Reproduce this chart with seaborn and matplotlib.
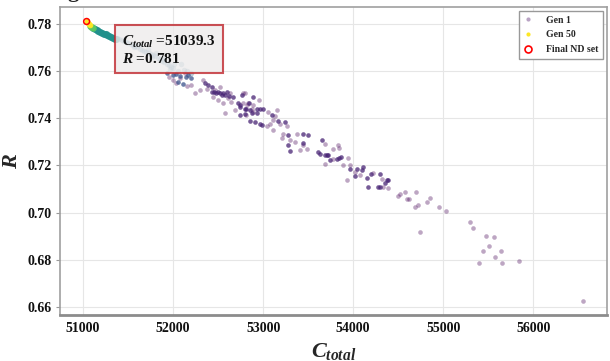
import matplotlib
matplotlib.use("Agg")
import matplotlib.pyplot as plt
from matplotlib.lines import Line2D
import seaborn as sns
import pandas as pd

# -----------------------------
# Data
# -----------------------------
# Generation 1 (light purple)
gen1_c = [54519, 54574, 54697, 54593, 54619, 54686, 54722, 54822, 54852, 54952,
          55027, 54741, 55297, 55333, 55471, 55567, 55511, 55444, 55638, 55574,
          55397, 55652, 55838, 56549,
          53778, 53833, 53844, 53778, 53686, 53882, 53944, 53963, 54019, 54074,
          54222, 54316, 53927, 54333, 54389, 54500,
          52797, 52956, 52778, 52822, 52871, 52889, 53056, 53149, 53130, 53111,
          53185, 53260, 53038, 53074, 53111, 53222, 53204, 53371, 53296, 53352,
          53444, 53408, 53482, 53686,
          52130, 52204, 52149, 52241, 52333, 52371, 52297, 52463, 52630, 52519,
          52444, 52500, 52556, 52611, 52648, 52778, 52833, 52889, 52685, 52574,
          52815, 51950, 52000, 52030, 52080]
gen1_r = [0.7080, 0.7086, 0.7089, 0.7058, 0.7058, 0.7023, 0.7034, 0.7044, 0.7063, 0.7023,
          0.7006, 0.6919, 0.6960, 0.6936, 0.6901, 0.6897, 0.6857, 0.6837, 0.6838, 0.6810,
          0.6784, 0.6786, 0.6794, 0.6623,
          0.7271, 0.7285, 0.7274, 0.7226, 0.7207, 0.7203, 0.7231, 0.7200, 0.7174, 0.7160,
          0.7169, 0.7143, 0.7136, 0.7108, 0.7103, 0.7072,
          0.7505, 0.7477, 0.7463, 0.7455, 0.7441, 0.7427, 0.7427, 0.7434, 0.7409, 0.7394,
          0.7377, 0.7367, 0.7366, 0.7377, 0.7352, 0.7332, 0.7314, 0.7335, 0.7306, 0.7299,
          0.7285, 0.7264, 0.7271, 0.7289,
          0.7590, 0.7540, 0.7536, 0.7505, 0.7562, 0.7522, 0.7519, 0.7519, 0.7505, 0.7533,
          0.7491, 0.7477, 0.7463, 0.7484, 0.7469, 0.7505, 0.7463, 0.7455, 0.7434, 0.7420,
          0.7413, 0.7575, 0.7560, 0.7550, 0.7570]

# Early generations (dark purple)
early_c = [53649, 53630, 53686, 53711, 53741, 53815, 53844, 53860, 53963, 54038,
           54093, 54111, 54019, 54149, 54193, 54297, 54371, 54389, 54352, 54167,
           54278, 54297,
           52760, 52882, 52741, 52844, 52808, 52927, 52797, 52963, 52993, 53093,
           53167, 53241, 52852, 52908, 52963, 52982, 53278, 53444, 53500, 53444,
           53278, 53296, 53611, 53722,
           52352, 52389, 52427, 52427, 52500, 52519, 52556, 52593, 52667, 52722,
           52741, 52797, 52852, 52741, 52871, 52927, 52450, 52480, 52540, 52620,
           52580]
early_r = [0.7306, 0.7250, 0.7243, 0.7243, 0.7221, 0.7229, 0.7231, 0.7235, 0.7186, 0.7186,
           0.7179, 0.7193, 0.7154, 0.7146, 0.7165, 0.7165, 0.7136, 0.7140, 0.7126, 0.7108,
           0.7108, 0.7108,
           0.7498, 0.7488, 0.7455, 0.7463, 0.7441, 0.7420, 0.7417, 0.7437, 0.7441, 0.7413,
           0.7389, 0.7384, 0.7389, 0.7384, 0.7377, 0.7370, 0.7328, 0.7335, 0.7328, 0.7295,
           0.7285, 0.7261, 0.7257, 0.7243,
           0.7548, 0.7540, 0.7533, 0.7512, 0.7512, 0.7505, 0.7505, 0.7512, 0.7491, 0.7463,
           0.7448, 0.7441, 0.7434, 0.7413, 0.7420, 0.7441, 0.7510, 0.7508, 0.7500, 0.7495,
           0.7497]

# Middle generations (indigo)
mid_c = [51927, 52000, 52074, 52167, 52204, 52056, 52111, 52030, 52140]
mid_r = [0.7590, 0.7583, 0.7579, 0.7583, 0.7569, 0.7554, 0.7545, 0.7588, 0.7575]

# Converging generations (light blue band)
band_c = [51380, 51400, 51430, 51450, 51480, 51500, 51530, 51550, 51580, 51600,
          51630, 51650, 51680, 51700, 51730, 51750, 51780, 51800, 51830, 51850,
          51880, 51900, 51930, 51950, 51980, 52000, 52050, 52093, 52150, 52200,
          51620, 51720, 51810, 51900, 52010, 51560, 51760, 51960, 52120]
band_r = [0.7738, 0.7734, 0.7731, 0.7728, 0.7724, 0.7720, 0.7714, 0.7710, 0.7706, 0.7702,
          0.7695, 0.7690, 0.7686, 0.7682, 0.7676, 0.7672, 0.7667, 0.7662, 0.7656, 0.7650,
          0.7644, 0.7638, 0.7631, 0.7625, 0.7618, 0.7612, 0.7600, 0.7630, 0.7598, 0.7590,
          0.7712, 0.7692, 0.7676, 0.7655, 0.7628, 0.7700, 0.7660, 0.7610, 0.7605]

# Late generations (teal / green)
teal_c = [51110, 51130, 51150, 51170, 51190, 51210, 51230, 51250, 51270, 51290,
          51310, 51330, 51350, 51365]
teal_r = [0.7782, 0.7778, 0.7774, 0.7770, 0.7767, 0.7763, 0.7759, 0.7755, 0.7751, 0.7748,
          0.7744, 0.7741, 0.7737, 0.7735]
green_c = [51082, 51090, 51098, 51105]
green_r = [0.7791, 0.7788, 0.7785, 0.7783]

# Generation 50 (yellow)
gen50_c = [51042, 51048, 51055, 51062, 51068, 51075]
gen50_r = [0.7811, 0.7808, 0.7805, 0.7801, 0.7798, 0.7794]

# Final non-dominated set
final_c = [51039.3]
final_r = [0.781]

x_ticks = [51000, 52000, 53000, 54000, 55000, 56000]
y_ticks = [0.66, 0.68, 0.70, 0.72, 0.74, 0.76, 0.78]

# -----------------------------
# Style
# -----------------------------
sns.set_theme(style="whitegrid")
plt.rcParams["font.family"] = ["Liberation Serif", "DejaVu Serif"]
plt.rcParams["font.weight"] = "bold"
plt.rcParams["mathtext.fontset"] = "custom"
plt.rcParams["mathtext.it"] = "Liberation Serif:italic:bold"
plt.rcParams["mathtext.rm"] = "Liberation Serif:bold"
plt.rcParams["mathtext.bf"] = "Liberation Serif:bold"

fig = plt.figure(figsize=(6.1, 3.61), dpi=100)
ax = fig.add_axes([0.098, 0.127, 0.897, 0.854])

groups = [
    (gen1_c, gen1_r, "#440154", 0.35, 11),
    (early_c, early_r, "#482475", 0.75, 11),
    (mid_c, mid_r, "#3b528b", 0.75, 11),
    (band_c, band_r, "#31688e", 0.35, 16),
    (teal_c, teal_r, "#21918c", 0.9, 26),
    (green_c, green_r, "#5ec962", 0.9, 22),
    (gen50_c, gen50_r, "#fde725", 0.95, 16),
]
for cs, rs, col, a, s in groups:
    df = pd.DataFrame({"C": cs, "R": rs})
    sns.scatterplot(data=df, x="C", y="R", ax=ax, color=col, alpha=a, s=s,
                    linewidth=0, legend=False)

ax.scatter(final_c, final_r, s=18, facecolors="none", edgecolors="red",
           linewidths=1.1, zorder=5)

ax.set_xlim(50741, 56819)
ax.set_ylim(0.6565, 0.7872)
ax.set_xticks(x_ticks)
ax.set_yticks(y_ticks)
ax.set_yticklabels([f"{v:.2f}" for v in y_ticks])
ax.grid(True, color="#e6e6e6", linewidth=0.8)
ax.tick_params(axis="x", length=0, pad=5, labelsize=10)
ax.tick_params(axis="y", length=3, width=0.8, color="#999999", pad=3, labelsize=10, left=True)
for lab in ax.get_xticklabels() + ax.get_yticklabels():
    lab.set_fontweight("bold")
    lab.set_color("#111111")

for side in ["top", "right", "left"]:
    ax.spines[side].set_color("#a0a0a0")
    ax.spines[side].set_linewidth(1.2)
ax.spines["bottom"].set_color("#8c8c8c")
ax.spines["bottom"].set_linewidth(2.0)

ax.set_xlabel(r"$C_{total}$", fontsize=16, labelpad=4)
ax.set_ylabel(r"$R$", fontsize=16, labelpad=4)

# annotation box
ax.text(0.114, 0.912, r"$C_{total}$ =51039.3" + "\n" + r"$R$ =0.781",
        transform=ax.transAxes, fontsize=11, fontweight="bold", va="top", ha="left",
        linespacing=1.15, color="#111111",
        bbox=dict(boxstyle="square,pad=0.5", facecolor="#eeecec", alpha=0.8,
                  edgecolor="#c0272d", linewidth=1.5), zorder=6)

handles = [
    Line2D([], [], marker="o", linestyle="", markersize=3, color="#b9a3c4", markeredgewidth=0),
    Line2D([], [], marker="o", linestyle="", markersize=3, color="#fde725", markeredgewidth=0),
    Line2D([], [], marker="o", linestyle="", markersize=5, markerfacecolor="none",
           markeredgecolor="red", markeredgewidth=1.2),
]
leg = ax.legend(handles, ["Gen 1", "Gen 50", "Final ND set"], loc="upper right",
                prop={"weight": "bold", "size": 7}, fancybox=False,
                framealpha=1, edgecolor="#999999", borderpad=0.5, handlelength=1.0,
                handletextpad=1.3, labelspacing=0.6, borderaxespad=0.4)
leg.get_frame().set_linewidth(1.0)

# clipped title fragment at the very top
fig.text(67 / 610, 1 + 3 / 361, "g", fontsize=16, va="baseline", ha="left", color="#222222")

fig.savefig("out.png", dpi=100)
